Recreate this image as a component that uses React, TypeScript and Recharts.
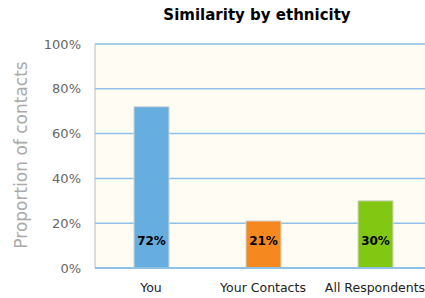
import React from "react";
import { Bar, BarChart, CartesianGrid, Cell, LabelList, XAxis, YAxis } from "recharts";

const groups = ["You", "Your Contacts", "All Respondents"];
const similarity = [72, 21, 30];
const barColors = ["#66aee0", "#f5891f", "#82c813"];
const yTicks = [0, 20, 40, 60, 80, 100];

const data = groups.map((name, i) => ({ name, value: similarity[i] }));

const font = "'DejaVu Sans', sans-serif";

function InsideLabel(props: any) {
  const { x, y, width, height, value } = props;
  return (
    <text
      x={x + width / 2}
      y={y + height - 27}
      textAnchor="middle"
      dominantBaseline="central"
      fontSize={12}
      fontWeight="bold"
      fill="#000"
      fontFamily={font}
    >
      {value}%
    </text>
  );
}

function YLabel() {
  return (
    <text
      x={21}
      y={155}
      transform="rotate(-90, 21, 155)"
      textAnchor="middle"
      dominantBaseline="central"
      fontSize={17}
      fill="#aaaaaa"
      fontFamily={font}
    >
      Proportion of contacts
    </text>
  );
}

export default function App() {
  return (
    <div
      style={{
        position: "absolute",
        left: 0,
        top: 0,
        width: 425,
        height: 298,
        overflow: "hidden",
        background: "#fff",
        fontFamily: font,
      }}
    >
      <div
        style={{
          position: "absolute",
          left: 95,
          width: 324,
          top: 6,
          textAlign: "center",
          fontSize: 15,
          fontWeight: "bold",
          color: "#000",
        }}
      >
        Similarity by ethnicity
      </div>
      <BarChart
        width={431}
        height={298}
        data={data}
        margin={{ top: 44, right: 0, left: 0, bottom: 0 }}
      >
        <CartesianGrid
          vertical={false}
          stroke="#8fc0e6"
          strokeWidth={1.5}
          fill="#fffcf3"
        />
        <XAxis
          dataKey="name"
          height={30}
          tickLine={false}
          tickSize={0}
          tickMargin={15}
          axisLine={{ stroke: "#8fc0e6", strokeWidth: 2 }}
          tick={{ fill: "#222", fontSize: 12.5, fontFamily: font }}
        />
        <YAxis
          width={95}
          domain={[0, 100]}
          ticks={yTicks}
          tickFormatter={(v: number) => `${v}%`}
          tickLine={false}
          tickSize={0}
          tickMargin={14}
          axisLine={{ stroke: "#bbbbbb" }}
          tick={{ fill: "#666", fontSize: 13, fontFamily: font }}
          label={<YLabel />}
        />
        <Bar dataKey="value" barSize={35} stroke="#d4d4d4" strokeWidth={1} isAnimationActive={false}>
          {data.map((d, i) => (
            <Cell key={d.name} fill={barColors[i]} />
          ))}
          <LabelList dataKey="value" content={<InsideLabel />} />
        </Bar>
      </BarChart>
    </div>
  );
}
